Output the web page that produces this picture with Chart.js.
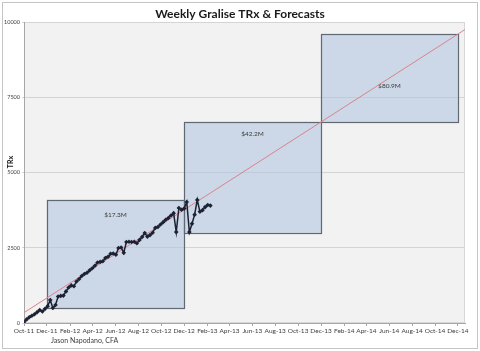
<!DOCTYPE html>
<html>
<head>
<meta charset="utf-8">
<script src="https://cdn.jsdelivr.net/npm/chart.js@4"></script>
<style>
html,body{margin:0;padding:0;background:#fff;}
#wrap{position:relative;width:480px;height:351px;}
canvas{position:absolute;left:0;top:0;}
#frame{position:absolute;left:2px;top:2px;width:474px;height:345px;border:1px solid #c4c4c4;pointer-events:none;}
#credit{position:absolute;left:51px;top:336px;font:7px Lato,"Open Sans",sans-serif;color:#404040;}
</style>
</head>
<body>
<div id="wrap">
<canvas id="c" width="480" height="351"></canvas>
<div id="frame"></div>
<div id="credit">Jason Napodano, CFA</div>
</div>
<script>
// ---- data ----
const titleText = "Weekly Gralise TRx & Forecasts";
const yAxisTitle = "TRx";
const tickLabels = ["Oct-11","Dec-11","Feb-12","Apr-12","Jun-12","Aug-12","Oct-12","Dec-12","Feb-13","Apr-13","Jun-13","Aug-13","Oct-13","Dec-13","Feb-14","Apr-14","Jun-14","Aug-14","Oct-14","Dec-14"];
const tickDates = ["2011-10-01","2011-12-01","2012-02-01","2012-04-01","2012-06-01","2012-08-01","2012-10-01","2012-12-01","2013-02-01","2013-04-01","2013-06-01","2013-08-01","2013-10-01","2013-12-01","2014-02-01","2014-04-01","2014-06-01","2014-08-01","2014-10-01","2014-12-01"];
const axisStart = "2011-10-01";
const axisEnd = "2014-12-20";
const firstWeek = "2011-10-01";
const weeklyTRx = [30,120,190,240,290,360,430,380,470,560,760,500,600,880,900,910,1050,1180,1250,1220,
  1380,1460,1560,1630,1670,1750,1820,1900,2010,2030,2050,2160,2200,2300,2310,2270,2490,2510,2330,2690,
  2700,2690,2700,2650,2760,2860,2990,2870,2920,3000,3160,3190,3270,3350,3430,3490,3570,3650,3020,3820,
  3760,3800,4020,3020,3300,3600,4090,3700,3750,3850,3920,3900];
const trendDates = ["2011-10-01","2014-12-20"];
const trendValues = [344, 9750];
const boxStart = ["2011-12-01","2012-12-01","2013-12-01"];
const boxEnd   = ["2012-12-01","2013-12-01","2014-12-01"];
const boxLow   = [500, 3000, 6680];
const boxHigh  = [4090, 6680, 9600];
const boxLabels = ["$17.3M","$42.2M","$80.9M"];
const boxLabelValue = [3590, 6280, 7870];

// ---- helpers ----
const DAY = 86400000;
const t0 = Date.parse(axisStart);
const toDay = s => (Date.parse(s) - t0) / DAY;
const tickDays = tickDates.map(toDay);
const w0 = toDay(firstWeek);
const seriesPts = weeklyTRx.map((v,i) => ({x: w0 + 7*i, y: v}));
const trendPts = trendDates.map((d,i) => ({x: toDay(d), y: trendValues[i]}));
const FONT = "Lato, 'Open Sans', sans-serif";

const boxPlugin = {
  id: 'boxes',
  beforeDatasetsDraw(chart) {
    const {ctx, scales:{x,y}} = chart;
    ctx.save();
    for (let i = 0; i < boxStart.length; i++) {
      const x1 = x.getPixelForValue(toDay(boxStart[i]));
      const x2 = x.getPixelForValue(toDay(boxEnd[i]));
      const y1 = y.getPixelForValue(boxHigh[i]);
      const y2 = y.getPixelForValue(boxLow[i]);
      ctx.fillStyle = 'rgba(176,196,222,0.58)';
      ctx.fillRect(x1, y1, x2-x1, y2-y1);
      ctx.strokeStyle = '#5f6873';
      ctx.lineWidth = 1.2;
      ctx.strokeRect(Math.round(x1)+0.5, Math.round(y1)+0.5, Math.round(x2-x1), Math.round(y2-y1));
      ctx.fillStyle = '#3a3a3a';
      ctx.font = "6.5px " + FONT;
      ctx.textAlign = 'center';
      ctx.textBaseline = 'middle';
      ctx.fillText(boxLabels[i], (x1+x2)/2, y.getPixelForValue(boxLabelValue[i]));
    }
    ctx.restore();
  },
  afterDraw(chart) {
    const {ctx} = chart;
    ctx.save();
    ctx.fillStyle = '#1a1a1a';
    ctx.font = "bold 12px " + FONT;
    ctx.textAlign = 'center';
    ctx.textBaseline = 'middle';
    ctx.fillText(titleText, 240, 14);
    ctx.translate(11, 162);
    ctx.rotate(-Math.PI/2);
    ctx.font = "bold 7px " + FONT;
    ctx.fillText(yAxisTitle, 0, 0);
    ctx.restore();
  }
};

const bgPlugin = {
  id: 'bg',
  beforeDraw(chart) {
    const {ctx, chartArea:a} = chart;
    ctx.save();
    ctx.fillStyle = '#f2f2f2';
    ctx.fillRect(a.left, a.top, a.right-a.left, a.bottom-a.top);
    ctx.strokeStyle = '#d8d8d8';
    ctx.lineWidth = 1;
    ctx.strokeRect(a.left+0.5, a.top+0.5, a.right-a.left-1, a.bottom-a.top-1);
    ctx.restore();
  }
};

new Chart(document.getElementById('c'), {
  type: 'scatter',
  data: {
    datasets: [
      {
        label: 'TRx',
        data: seriesPts,
        showLine: true,
        borderColor: '#1c2233',
        backgroundColor: '#1c2233',
        borderWidth: 1.5,
        pointStyle: 'rectRot',
        pointRadius: 2.3,
        pointBorderWidth: 0,
        order: 1
      },
      {
        label: 'Trend',
        data: trendPts,
        showLine: true,
        borderColor: '#d9848a',
        borderWidth: 1,
        pointRadius: 0,
        order: 2
      }
    ]
  },
  options: {
    responsive: false,
    animation: false,
    events: [],
    layout: {padding: {left: 0, right: 15, top: 22, bottom: 16}},
    plugins: {legend: {display: false}, tooltip: {enabled: false}, title: {display: false}},
    scales: {
      x: {
        type: 'linear',
        min: 0,
        max: toDay(axisEnd),
        afterBuildTicks(s) { s.ticks = tickDays.map(v => ({value: v})); },
        afterFit(s) { s.height = 12; },
        ticks: {
          autoSkip: false, maxRotation: 0, minRotation: 0, padding: 1,
          color: '#404040', font: {family: FONT, size: 6.5},
          callback(v) { const i = tickDays.indexOf(v); return i >= 0 ? tickLabels[i] : ''; }
        },
        grid: {drawOnChartArea: false, drawTicks: true, tickLength: 3, color: '#a6a6a6'},
        border: {color: '#a6a6a6'}
      },
      y: {
        min: 0, max: 10000,
        afterFit(s) { s.width = 24; },
        ticks: {stepSize: 2500, padding: 2, color: '#404040', font: {family: FONT, size: 5.5},
          callback(v) { return String(v); }},
        grid: {color: '#d4d4d4', tickLength: 2, drawTicks: true},
        border: {color: '#a6a6a6'}
      }
    }
  },
  plugins: [bgPlugin, boxPlugin]
});
</script>
</body>
</html>
